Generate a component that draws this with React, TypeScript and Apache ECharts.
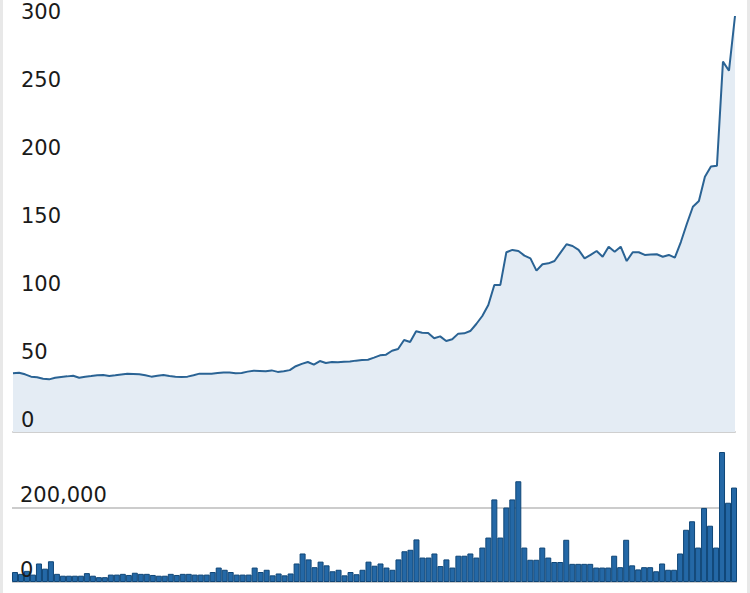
import { useEffect, useRef } from "react";
import * as echarts from "echarts";

// closing price, one point per trading day
const closes = [
  43.3, 43.7, 42.5, 40.8, 40.3, 39.2, 38.8, 40, 40.6, 41, 41.5, 40, 40.8, 41.2,
  41.8, 42, 41.3, 41.8, 42.4, 43, 42.8, 42.5, 41.8, 40.8, 41.4, 42, 41.3, 40.8,
  40.6, 40.8, 41.8, 43, 43, 43, 43.4, 43.8, 43.8, 43.3, 43.5, 44.5, 45.1, 45,
  44.7, 45.4, 44.3, 44.7, 45.6, 48.5, 50.2, 51.6, 49.6, 52.3, 50.9, 51.6, 51.4,
  51.8, 52, 52.6, 53.1, 53.3, 54.8, 56.5, 57, 59.9, 61.2, 67.8, 66.3, 74.2,
  73.2, 73, 69.1, 70.5, 67.1, 68.3, 72.5, 72.7, 74.4, 79.6, 85.5, 93.6, 108.4,
  108.4, 132.5, 134.2, 133.4, 130, 128, 118.9, 123.6, 124.3, 126, 132.2, 138.4,
  137.1, 134.2, 128, 130.5, 133.4, 129.2, 136.6, 132.9, 136.6, 126, 132.5,
  132.5, 130.5, 130.8, 131, 129.2, 130.5, 128.5, 140, 153.5, 166, 170.3, 188.2,
  195.6, 196.3, 273, 266.3, 306.6,
];

// traded volume, same days
const volumes = [
  27000, 22000, 30000, 20000, 50000, 36000, 56000, 22000, 17000, 17000, 17000,
  17000, 24000, 17000, 13000, 13000, 20000, 20000, 22000, 19000, 25000, 22000,
  22000, 19000, 17000, 17000, 22000, 19000, 22000, 22000, 20000, 20000, 20000,
  27000, 39000, 33000, 27000, 20000, 20000, 20000, 39000, 27000, 33000, 18000,
  23000, 18000, 23000, 50000, 77000, 61000, 40000, 55000, 45000, 29000, 33000,
  18000, 27000, 21000, 33000, 55000, 44000, 50000, 39000, 33000, 61000, 83000,
  87000, 115000, 66000, 66000, 77000, 43000, 61000, 39000, 71000, 71000, 77000,
  66000, 93000, 120000, 223000, 120000, 201000, 223000, 272000, 93000, 60000,
  60000, 93000, 66000, 54000, 54000, 114000, 49000, 49000, 49000, 49000, 39000,
  39000, 39000, 71000, 40000, 114000, 45000, 34000, 40000, 40000, 29000, 50000,
  33000, 33000, 77000, 141000, 164000, 93000, 200000, 152000, 93000, 351000,
  214000, 255000,
];

const days = closes.map((_, i) => String(i + 1));

const priceTicks = [0, 50, 100, 150, 200, 250, 300];
const volumeTicks = [0, 200000];

const labelStyle = {
  inside: true,
  margin: 8,
  color: "#1a1a1a",
  fontSize: 21,
  fontFamily: "DejaVu Sans",
  align: "left" as const,
  verticalAlign: "bottom" as const,
  padding: [0, 0, 2, 0],
};

export default function App() {
  const ref = useRef<HTMLDivElement>(null);

  useEffect(() => {
    if (!ref.current) return;
    const chart = echarts.init(ref.current, undefined, { renderer: "svg" });
    const priceMax = Math.max(...closes);
    const volMax = Math.max(...volumes);

    chart.setOption({
      animation: false,
      graphic: [
        { type: "rect", shape: { x: 0, y: 0, width: 3, height: 593 }, style: { fill: "#e8e8e8" } },
        { type: "rect", shape: { x: 747, y: 0, width: 3, height: 593 }, style: { fill: "#e8e8e8" } },
      ],
      grid: [
        { left: 13, right: 15, top: 16, bottom: 161, outerBoundsMode: "none" },
        { left: 12, right: 13, top: 452, bottom: 11, outerBoundsMode: "none" },
      ],
      xAxis: [
        {
          type: "category",
          gridIndex: 0,
          data: days,
          boundaryGap: false,
          offset: 2,
          axisLine: { lineStyle: { color: "#cfcfcf", width: 2 } },
          axisTick: { show: false },
          axisLabel: { show: false },
        },
        {
          type: "category",
          gridIndex: 1,
          data: days,
          boundaryGap: true,
          axisLine: { show: false },
          axisTick: { show: false },
          axisLabel: { show: false },
        },
      ],
      yAxis: [
        {
          type: "value",
          gridIndex: 0,
          position: "left",
          min: 0,
          max: priceMax,
          interval: 50,
          z: 10,
          axisLine: { show: false },
          axisTick: { show: false },
          splitLine: { show: false },
          axisLabel: {
            ...labelStyle,
            showMaxLabel: false,
            formatter: (v: number) => (priceTicks.includes(v) ? String(v) : ""),
          },
        },
        {
          type: "value",
          gridIndex: 1,
          position: "left",
          min: 0,
          max: volMax,
          interval: 200000,
          axisLine: { show: false },
          axisTick: { show: false },
          axisLabel: { show: false },
          splitLine: {
            show: true,
            showMaxLine: false,
            lineStyle: { color: "#cccccc", width: 2 },
          },
        },
        {
          type: "value",
          gridIndex: 1,
          position: "left",
          min: 0,
          max: volMax,
          interval: 200000,
          z: 10,
          axisLine: { show: false },
          axisTick: { show: false },
          splitLine: { show: false },
          axisLabel: {
            ...labelStyle,
            showMaxLabel: false,
            formatter: (v: number) =>
              volumeTicks.includes(v) ? v.toLocaleString("en-US") : "",
          },
        },
      ],
      series: [
        {
          type: "line",
          xAxisIndex: 0,
          yAxisIndex: 0,
          data: closes,
          symbol: "none",
          lineStyle: { color: "#2a6394", width: 2 },
          areaStyle: { color: "#e4ecf4", opacity: 1 },
        },
        {
          type: "bar",
          xAxisIndex: 1,
          yAxisIndex: 1,
          data: volumes,
          barCategoryGap: "0%",
          itemStyle: { color: "#2468a6", borderColor: "#0f4677", borderWidth: 1 },
        },
      ],
    });

    return () => chart.dispose();
  }, []);

  return (
    <div
      ref={ref}
      style={{ position: "absolute", left: 0, top: 0, width: 750, height: 593 }}
    />
  );
}
